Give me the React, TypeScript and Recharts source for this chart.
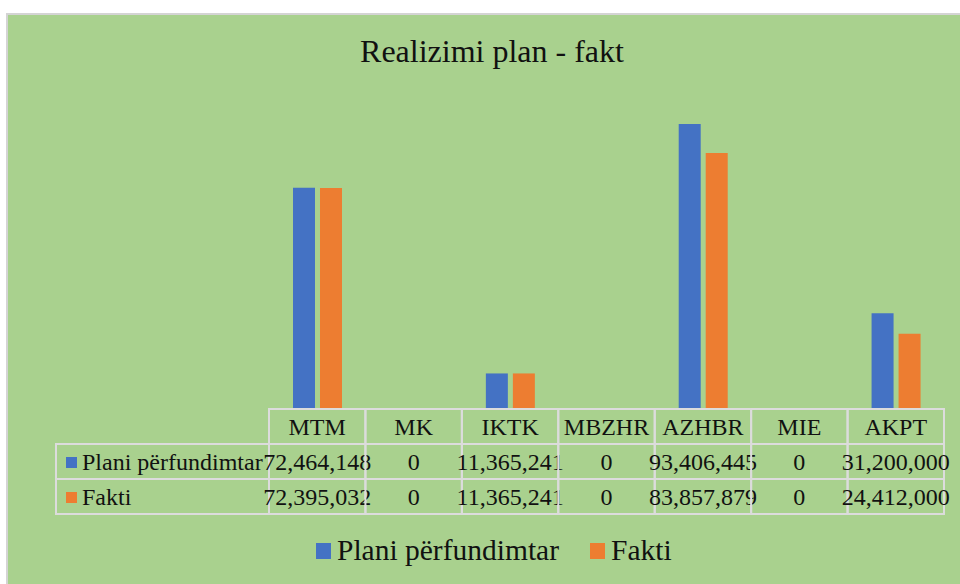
import React from 'react';
import { BarChart, Bar, XAxis, YAxis, Legend } from 'recharts';

const categories = ['MTM', 'MK', 'IKTK', 'MBZHR', 'AZHBR', 'MIE', 'AKPT'];
const planValues = [72464148, 0, 11365241, 0, 93406445, 0, 31200000];
const faktValues = [72395032, 0, 11365241, 0, 83857879, 0, 24412000];
const seriesNames = ['Plani përfundimtar', 'Fakti'];
const seriesColors = ['#4472C4', '#ED7D31'];

const data = categories.map((name, i) => ({
  name,
  plan: planValues[i],
  fakt: faktValues[i],
}));

const FONT = '"Liberation Serif", "Times New Roman", serif';
const GRID = '#dcdcdc';
const CHART_W = 960;
const MARGIN = { top: 104, right: 16, bottom: 71, left: 269 };
const COL_W = (CHART_W - MARGIN.left - MARGIN.right) / categories.length;
const ROW_H = 35;
const LABEL_W = 213;
const TABLE_FONT = 24;

const fmt = (v: number) => v.toLocaleString('en-US');

const TableTick = (props: any) => {
  const { x, y, payload, index } = props;
  const i = payload?.index ?? index;
  const left = x - COL_W / 2;
  const top = y + 1;
  const rows = [planValues[i], faktValues[i]];
  return (
    <g>
      {i === 0 && (
        <g>
          <rect x={left - LABEL_W} y={top + ROW_H} width={LABEL_W} height={ROW_H * 2} fill="none" stroke={GRID} strokeWidth={2} />
          <line x1={left - LABEL_W} x2={left} y1={top + ROW_H * 2} y2={top + ROW_H * 2} stroke={GRID} strokeWidth={2} />
          {seriesNames.map((s, r) => (
            <g key={s}>
              <rect x={left - LABEL_W + 10} y={top + ROW_H * (r + 1) + 13} width={11} height={11} fill={seriesColors[r]} />
              <text x={left - LABEL_W + 26} y={top + ROW_H * (r + 1) + 26} fontFamily={FONT} fontSize={TABLE_FONT} fill="#111">
                {s}
              </text>
            </g>
          ))}
        </g>
      )}
      <rect x={left} y={top} width={COL_W} height={ROW_H * 3} fill="none" stroke={GRID} strokeWidth={2} />
      <line x1={left} x2={left + COL_W} y1={top + ROW_H} y2={top + ROW_H} stroke={GRID} strokeWidth={2} />
      <line x1={left} x2={left + COL_W} y1={top + ROW_H * 2} y2={top + ROW_H * 2} stroke={GRID} strokeWidth={2} />
      <text x={x} y={top + 26} textAnchor="middle" fontFamily={FONT} fontSize={TABLE_FONT} fill="#111">
        {payload.value}
      </text>
      {rows.map((v, r) => (
        <text key={r} x={x} y={top + ROW_H * (r + 1) + 26} textAnchor="middle" fontFamily={FONT} fontSize={TABLE_FONT} fill="#111">
          {fmt(v)}
        </text>
      ))}
    </g>
  );
};

const LegendContent = () => (
  <div style={{ display: 'flex', alignItems: 'center', fontFamily: FONT, fontSize: 29.5, color: '#111' }}>
    {seriesNames.map((s, i) => (
      <div key={s} style={{ display: 'flex', alignItems: 'center', marginRight: 31 }}>
        <span style={{ display: 'inline-block', width: 15, height: 16, background: seriesColors[i], marginRight: 6 }} />
        <span>{s}</span>
      </div>
    ))}
  </div>
);

export default function App() {
  return (
    <div style={{ position: 'absolute', left: 0, top: 0, width: 960, height: 584, background: '#fff', overflow: 'hidden' }}>
      <div
        style={{
          position: 'absolute',
          left: 6,
          top: 13,
          width: 980,
          height: 600,
          background: '#A9D18E',
          border: '2px solid #d4d4d4',
        }}
      />
      <div
        style={{
          position: 'absolute',
          left: 0,
          top: 33,
          width: 984,
          textAlign: 'center',
          fontFamily: FONT,
          fontSize: 32,
          color: '#111',
        }}
      >
        Realizimi plan - fakt
      </div>
      <div style={{ position: 'absolute', left: 0, top: 0 }}>
        <BarChart width={CHART_W} height={584} data={data} margin={MARGIN} barSize={22} barGap={5}>
          <XAxis
            dataKey="name"
            height={105}
            axisLine={false}
            tickLine={false}
            tickSize={0}
            tickMargin={0}
            interval={0}
            tick={<TableTick />}
          />
          <YAxis hide domain={[0, 100000000]} />
          <Legend
            verticalAlign="middle"
            layout="horizontal"
            content={<LegendContent />}
            wrapperStyle={{ top: 534, left: 316, width: 'auto' }}
          />
          <Bar dataKey="plan" name={seriesNames[0]} fill={seriesColors[0]} isAnimationActive={false} />
          <Bar dataKey="fakt" name={seriesNames[1]} fill={seriesColors[1]} isAnimationActive={false} />
        </BarChart>
      </div>
    </div>
  );
}
